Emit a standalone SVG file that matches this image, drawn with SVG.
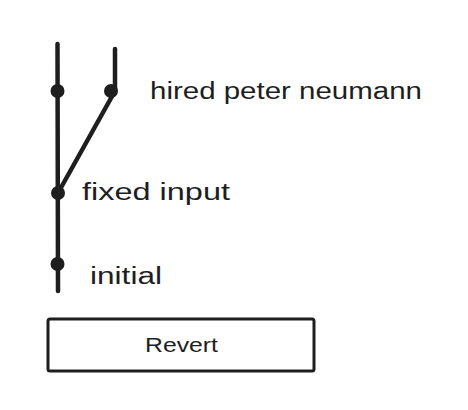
<svg xmlns="http://www.w3.org/2000/svg" width="468" height="410" viewBox="0 0 468 410">
<style>
.line{stroke:#1e1e1e;stroke-width:4.5;fill:none;stroke-linecap:round;stroke-linejoin:round}
.dot{fill:#1e1e1e}
.lbl{font-family:"Liberation Sans","DejaVu Sans",sans-serif;font-size:23px;fill:#1e1e1e}
.btn{fill:#ffffff;stroke:#1e1e1e;stroke-width:3}
.btxt{font-family:"Liberation Sans","DejaVu Sans",sans-serif;font-size:20px;fill:#1e1e1e}
</style>
<rect width="468" height="410" fill="#ffffff"/>
<g id="connectors">
<path class="line" d="M57.5 44 L58 291"/>
<path class="line" d="M115 49 L115 91 L58 193"/>
</g>
<g id="node-main-top"><circle class="dot" cx="57.5" cy="91" r="7"/></g>
<g id="node-hired"><circle class="dot" cx="111" cy="91" r="7"/><text class="lbl" x="150" y="99" textLength="272" lengthAdjust="spacingAndGlyphs">hired peter neumann</text></g>
<g id="node-fixed"><circle class="dot" cx="58" cy="193" r="7"/><text class="lbl" x="82" y="200" textLength="148" lengthAdjust="spacingAndGlyphs">fixed input</text></g>
<g id="node-initial"><circle class="dot" cx="57.5" cy="264" r="7"/><text class="lbl" x="90" y="284" textLength="72" lengthAdjust="spacingAndGlyphs">initial</text></g>
<g id="button-revert"><rect class="btn" x="48" y="319" width="266" height="52" rx="2"/><text class="btxt" x="145" y="352" textLength="73" lengthAdjust="spacingAndGlyphs">Revert</text></g>
</svg>
